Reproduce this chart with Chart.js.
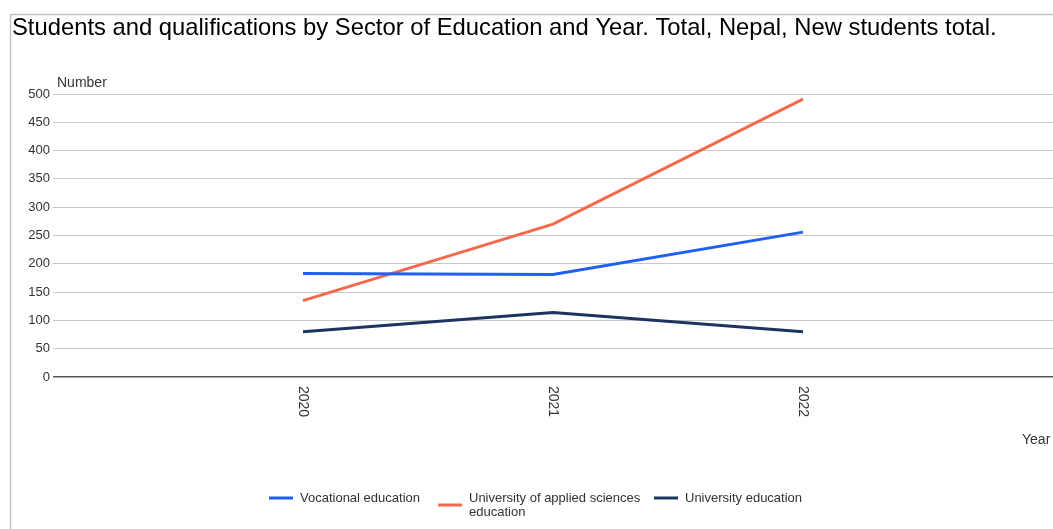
<!DOCTYPE html>
<html>
<head>
<meta charset="utf-8">
<script src="https://cdn.jsdelivr.net/npm/chart.js@4"></script>
<style>
  html, body { margin: 0; padding: 0; background: #fff; }
  #wrap { position: relative; width: 1053px; height: 529px; }
</style>
</head>
<body>
<div id="wrap"><canvas id="eduChart" width="1053" height="529"></canvas></div>
<script>
// NEW STUDENTS BY SECTOR OF EDUCATION
const years = [2020, 2021, 2022];
const vocational = [183, 181, 256];
const appliedSciences = [135, 270, 491];
const university = [80, 114, 80];
const seriesLabels = ['Vocational education', ['University of applied sciences', 'education'], 'University education'];
const seriesColors = ['#1f5ff2', '#f26a4b', '#1d3461'];
const yTicks = [0, 50, 100, 150, 200, 250, 300, 350, 400, 450, 500];

const titleText = 'Students and qualifications by Sector of Education and Year. Total, Nepal, New students total.';
const FONT = '"Liberation Sans", Arial, sans-serif';

function points(values) {
  return years.map((yr, i) => ({ x: yr, y: values[i] }));
}

// frame, title, axis captions, rotated year labels and legend
const decorations = {
  id: 'decorations',
  beforeDraw(chart) {
    const ctx = chart.ctx;
    ctx.save();
    ctx.strokeStyle = '#c4c4c4';
    ctx.lineWidth = 1.5;
    ctx.beginPath();
    ctx.moveTo(10.5, 529);
    ctx.lineTo(10.5, 14.5);
    ctx.lineTo(1053, 14.5);
    ctx.stroke();
    ctx.restore();
  },
  afterDraw(chart) {
    const ctx = chart.ctx;
    const xs = chart.scales.x;
    const area = chart.chartArea;
    ctx.save();

    ctx.fillStyle = '#000';
    ctx.font = '23.8px ' + FONT;
    ctx.textBaseline = 'middle';
    ctx.textAlign = 'left';
    ctx.fillText(titleText, 12, 28);

    ctx.fillStyle = '#333';
    ctx.font = '14px ' + FONT;
    ctx.fillText('Number', 57, 83);
    ctx.fillText('Year', 1022, 440);

    // year labels, rotated clockwise
    years.forEach(yr => {
      const px = xs.getPixelForValue(yr);
      ctx.save();
      ctx.translate(px, area.bottom + 9);
      ctx.rotate(Math.PI / 2);
      ctx.textAlign = 'left';
      ctx.textBaseline = 'middle';
      ctx.fillText(String(yr), 0, 0);
      ctx.restore();
    });

    // legend
    const legendX = [269, 438, 654];
    const legendY = 498;
    ctx.font = '13px ' + FONT;
    chart.data.datasets.forEach((ds, i) => {
      const lines = Array.isArray(ds.label) ? ds.label : [ds.label];
      const midY = legendY + (lines.length - 1) * 14 / 2;
      ctx.strokeStyle = ds.borderColor;
      ctx.lineWidth = 3;
      ctx.beginPath();
      ctx.moveTo(legendX[i], midY);
      ctx.lineTo(legendX[i] + 24, midY);
      ctx.stroke();
      ctx.fillStyle = '#333';
      lines.forEach((ln, j) => ctx.fillText(ln, legendX[i] + 31, legendY + j * 14));
    });
    ctx.restore();
  }
};

new Chart(document.getElementById('eduChart'), {
  type: 'line',
  data: {
    datasets: [vocational, appliedSciences, university].map((vals, i) => ({
      label: seriesLabels[i],
      data: points(vals),
      borderColor: seriesColors[i],
      backgroundColor: seriesColors[i],
      borderWidth: 3,
      pointRadius: 0,
      tension: 0,
      fill: false
    }))
  },
  options: {
    responsive: false,
    animation: false,
    layout: { padding: { top: 94, right: 0, left: 0, bottom: 0 } },
    plugins: {
      legend: { display: false },
      title: { display: false },
      tooltip: { enabled: false }
    },
    scales: {
      x: {
        type: 'linear',
        min: years[0] - 1,
        max: years[years.length - 1] + 1,
        grid: { display: false },
        border: { display: false },
        ticks: { display: false },
        afterFit(scale) { scale.height = 529 - 94 - 283; }
      },
      y: {
        min: 0,
        max: 500,
        afterBuildTicks(scale) { scale.ticks = yTicks.map(v => ({ value: v })); },
        afterFit(scale) { scale.width = 53; },
        grid: {
          color: ctx => ctx.tick && ctx.tick.value === 0 ? '#555' : '#c8c8c8',
          lineWidth: ctx => ctx.tick && ctx.tick.value === 0 ? 1.5 : 1,
          drawTicks: false
        },
        border: { display: false },
        ticks: {
          color: '#333',
          padding: 3,
          font: { family: FONT, size: 13 }
        }
      }
    }
  },
  plugins: [decorations]
});
</script>
</body>
</html>
